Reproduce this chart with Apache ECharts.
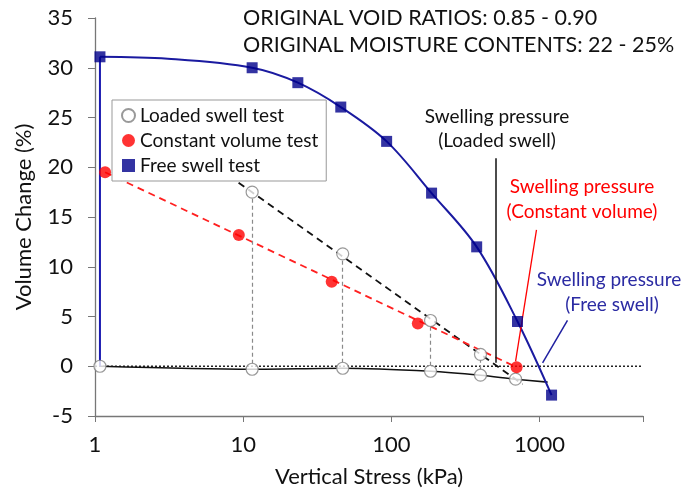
<!DOCTYPE html>
<html>
<head>
<meta charset="utf-8">
<script src="https://cdn.jsdelivr.net/npm/echarts/dist/echarts.min.js"></script>
<style>html,body{margin:0;padding:0;background:#fff}#c{width:683px;height:490px}</style>
</head>
<body>
<div id="c"></div>
<script>
// ---- data ----
const yTicks = [-5, 0, 5, 10, 15, 20, 25, 30, 35];
const xTickLabels = [1, 10, 100, 1000];

// Loaded swell test: circles at seating (lower) and after swell (upper)
const loadedLowX = [1.08, 11.5, 47, 184, 400, 690];
const loadedLowY = [0, -0.3, -0.2, -0.5, -0.9, -1.3];
const loadedLineEndX = 1135, loadedLineEndY = -1.6;
const loadedUpX = [11.5, 47, 184, 400];
const loadedUpY = [17.5, 11.3, 4.6, 1.2];
const loadedTrendX = [8, 769];
const loadedTrendY = [19.15, -1.8];

// Constant volume test
const constX = [1.17, 9.35, 39.6, 151, 701];
const constY = [19.5, 13.2, 8.5, 4.3, -0.1];

// Free swell test
const freeX = [1.08, 11.5, 23.4, 45.6, 93, 187, 377, 711, 1207];
const freeY = [31.1, 30.0, 28.5, 26.05, 22.6, 17.4, 12.0, 4.5, -2.9];
const freeCurveExtraX = 3.1, freeCurveExtraY = 30.9;

// annotation leader lines [x1,y1,x2,y2]
const loadedPressureLine = [506, 20.9, 506, 0.35];
const constPressureLine = [955, 13.7, 690, 0.5];
const freePressureLine = [1546, 4.6, 1050, 0.35];

const FONT = 'Lato, "Open Sans", sans-serif';
const NAVY = '#00008b';
const TXT = '#111';

const zip = (xs, ys) => xs.map((x, i) => [x, ys[i]]);

const freeCurve = [[freeX[0], freeY[0]], [freeCurveExtraX, freeCurveExtraY]].concat(zip(freeX.slice(1), freeY.slice(1)));
const freeRise = [[freeX[0], 0], [freeX[0], freeY[0]]];
const loadedLine = zip(loadedLowX, loadedLowY).concat([[loadedLineEndX, loadedLineEndY]]);

const arrowsData = loadedUpX.map((x, i) => [
  {coord: [x, loadedLowY[i + 1] + 0.55], lineStyle: {color: '#8a8a8a', width: 1.2, type: [4, 3]}},
  {coord: [x, loadedUpY[i] - 0.6]}
]);

function ml(arr, color, width) {
  return [{coord: [arr[0], arr[1]], lineStyle: {color, width, type: 'solid'}}, {coord: [arr[2], arr[3]]}];
}

const chart = echarts.init(document.getElementById('c'));
chart.setOption({
  animation: false,
  grid: {left: 95, right: 40, top: 18, bottom: 74, containLabel: false, outerBoundsMode: 'none'},
  xAxis: {
    type: 'log', logBase: 10, min: 1, max: 5000,
    name: 'Vertical Stress (kPa)', nameLocation: 'middle', nameGap: 50,
    nameTextStyle: {fontFamily: FONT, fontSize: 22, color: TXT},
    axisLine: {onZero: false, lineStyle: {color: '#777', width: 1.3}},
    axisTick: {length: 6, lineStyle: {color: '#777'}},
    splitLine: {show: false},
    minorTick: {show: false},
    axisLabel: {
      fontFamily: FONT, fontSize: 22, color: TXT, margin: 18,
      formatter: v => (xTickLabels.indexOf(Math.round(v)) >= 0 ? String(Math.round(v)) : '')
    }
  },
  yAxis: {
    type: 'value', min: yTicks[0], max: yTicks[yTicks.length - 1], interval: 5,
    name: 'Volume Change (%)', nameLocation: 'middle', nameGap: 60, nameRotate: 90,
    nameTextStyle: {fontFamily: FONT, fontSize: 22, color: TXT},
    axisLine: {show: true, onZero: false, lineStyle: {color: '#777', width: 1.3}},
    axisTick: {show: true, length: 7, lineStyle: {color: '#777'}},
    splitLine: {show: false},
    axisLabel: {fontFamily: FONT, fontSize: 22, color: TXT, margin: 22}
  },
  legend: {
    left: 112, top: 100, orient: 'vertical',
    data: ['Loaded swell test', 'Constant volume test', 'Free swell test'],
    backgroundColor: '#fff', borderColor: '#999', borderWidth: 1,
    padding: [6, 8, 6, 9], itemGap: 6, itemWidth: 13, itemHeight: 13,
    textStyle: {fontFamily: FONT, fontSize: 19, color: TXT},
    z: 10
  },
  series: [
    {
      type: 'line', name: 'zero', data: [[1, 0], [5000, 0]], symbol: 'none', silent: true,
      lineStyle: {color: '#222', width: 1.5, type: [2, 2]}, z: 1,
      markLine: {
        silent: true, animation: false,
        symbol: ['none', 'arrow'], symbolSize: [0, 8],
        label: {show: false},
        data: arrowsData.concat([
          ml(loadedPressureLine, '#111', 1.5),
          ml(constPressureLine, '#ff0000', 1.3),
          ml(freePressureLine, '#1f1fa0', 1.5)
        ])
      }
    },
    {type: 'line', data: loadedLine, symbol: 'none', smooth: 0.3, lineStyle: {color: '#111', width: 1.6}, z: 2, silent: true},
    {type: 'line', data: zip(loadedTrendX, loadedTrendY), symbol: 'none', lineStyle: {color: '#111', width: 1.8, type: [7, 5]}, z: 2, silent: true},
    {type: 'line', data: [[constX[0], constY[0]], [constX[constX.length - 1], constY[constY.length - 1]]], symbol: 'none', lineStyle: {color: '#ff2020', width: 1.8, type: [7, 5]}, z: 2, silent: true},
    {type: 'line', data: freeRise, symbol: 'none', lineStyle: {color: '#1a1ab0', width: 2}, z: 2, silent: true},
    {type: 'line', data: freeCurve, symbol: 'none', smooth: 0.35, lineStyle: {color: '#1a1aa0', width: 2}, z: 2, silent: true},
    {
      type: 'scatter', name: 'Loaded swell test', symbol: 'circle', symbolSize: 12,
      data: zip(loadedLowX, loadedLowY).concat(zip(loadedUpX, loadedUpY)),
      itemStyle: {color: '#fff', borderColor: '#7f7f7f', borderWidth: 1.2}, z: 5
    },
    {
      type: 'scatter', name: 'Constant volume test', symbol: 'circle', symbolSize: 12,
      data: zip(constX, constY), itemStyle: {color: '#ff0000'}, z: 5
    },
    {
      type: 'scatter', name: 'Free swell test', symbol: 'rect', symbolSize: 11,
      data: zip(freeX, freeY), itemStyle: {color: NAVY}, z: 5
    }
  ],
  graphic: [
    {type: 'text', left: 243, top: 7, style: {text: 'ORIGINAL VOID RATIOS: 0.85 - 0.90', font: '21.5px ' + FONT, fill: TXT}},
    {type: 'text', left: 243, top: 34, style: {text: 'ORIGINAL MOISTURE CONTENTS: 22 - 25%', font: '21.5px ' + FONT, fill: TXT}},
    {type: 'text', x: 497, y: 117, style: {text: 'Swelling pressure', font: '19px ' + FONT, fill: TXT, align: 'center', verticalAlign: 'middle'}},
    {type: 'text', x: 497, y: 141, style: {text: '(Loaded swell)', font: '19px ' + FONT, fill: TXT, align: 'center', verticalAlign: 'middle'}},
    {type: 'text', x: 582, y: 187, style: {text: 'Swelling pressure', font: '19px ' + FONT, fill: '#ff0000', align: 'center', verticalAlign: 'middle'}},
    {type: 'text', x: 582, y: 212, style: {text: '(Constant volume)', font: '19px ' + FONT, fill: '#ff0000', align: 'center', verticalAlign: 'middle'}},
    {type: 'text', x: 609, y: 280, style: {text: 'Swelling pressure', font: '19px ' + FONT, fill: '#2b2ba3', align: 'center', verticalAlign: 'middle'}},
    {type: 'text', x: 612, y: 305, style: {text: '(Free swell)', font: '19px ' + FONT, fill: '#2b2ba3', align: 'center', verticalAlign: 'middle'}}
  ]
});
</script>
</body>
</html>
